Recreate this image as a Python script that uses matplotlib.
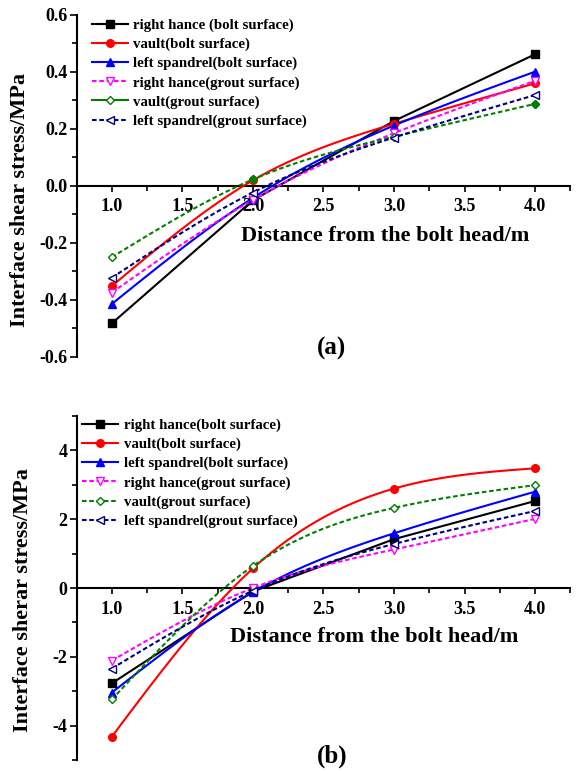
import numpy as np
import matplotlib
matplotlib.use('Agg')
import matplotlib.pyplot as plt
from matplotlib.lines import Line2D
from matplotlib.ticker import MultipleLocator, FormatStrFormatter

plt.rcParams['font.family'] = 'Liberation Serif'
plt.rcParams['font.weight'] = 'bold'
plt.rcParams['axes.unicode_minus'] = False

# distance along the bolt (m)
dist = [1.0, 2.0, 3.0, 4.0]

# (a) shear stress, MPa
rh_bolt_a = [-0.482, -0.05, 0.228, 0.462]
vault_bolt_a = [-0.351, 0.02, 0.218, 0.360]
ls_bolt_a = [-0.414, -0.042, 0.212, 0.401]
rh_grout_a = [-0.374, -0.049, 0.185, 0.369]
vault_grout_a = [-0.250, 0.023, 0.173, 0.288]
ls_grout_a = [-0.322, -0.023, 0.170, 0.319]

# (b) shear stress, MPa
rh_bolt_b = [-2.77, -0.10, 1.42, 2.53]
vault_bolt_b = [-4.32, 0.57, 2.89, 3.48]
ls_bolt_b = [-3.04, -0.12, 1.59, 2.80]
rh_grout_b = [-2.11, 0.0, 1.12, 2.01]
vault_grout_b = [-3.24, 0.64, 2.33, 2.99]
ls_grout_b = [-2.34, -0.08, 1.28, 2.24]

labels_a = ['right hance (bolt surface)', 'vault(bolt surface)', 'left spandrel(bolt surface)',
            'right hance(grout surface)', 'vault(grout surface)', 'left spandrel(grout surface)']
labels_b = ['right hance(bolt surface)', 'vault(bolt surface)', 'left spandrel(bolt surface)',
            'right hance(grout surface)', 'vault(grout surface)', 'left spandrel(grout surface)']


def smooth(xs, ys, n=80):
    # natural cubic spline through the points
    xs = np.asarray(xs, float)
    ys = np.asarray(ys, float)
    k = len(xs)
    h = np.diff(xs)
    A = np.zeros((k, k))
    r = np.zeros(k)
    A[0, 0] = A[-1, -1] = 1
    for i in range(1, k - 1):
        A[i, i - 1] = h[i - 1]
        A[i, i] = 2 * (h[i - 1] + h[i])
        A[i, i + 1] = h[i]
        r[i] = 6 * ((ys[i + 1] - ys[i]) / h[i] - (ys[i] - ys[i - 1]) / h[i - 1])
    m = np.linalg.solve(A, r)
    xx = np.linspace(xs[0], xs[-1], n)
    j = np.clip(np.searchsorted(xs, xx) - 1, 0, k - 2)
    t0 = xs[j + 1] - xx
    t1 = xx - xs[j]
    hj = h[j]
    yy = (m[j] * t0 ** 3 + m[j + 1] * t1 ** 3) / (6 * hj) \
        + (ys[j] / hj - m[j] * hj / 6) * t0 + (ys[j + 1] / hj - m[j + 1] * hj / 6) * t1
    return xx, yy


dash = (0, (2.2, 1.3))
styles = [
    dict(color='black', marker='s', ls='-', mfc='black', curve=False),
    dict(color='red', marker='o', ls='-', mfc='red', curve=True),
    dict(color='blue', marker='^', ls='-', mfc='blue', curve=True),
    dict(color='magenta', marker='v', ls=dash, mfc='white', curve=True),
    dict(color='green', marker='D', ls=dash, mfc='white', curve=True),
    dict(color='navy', marker='<', ls=dash, mfc='white', curve=True),
]


def draw(ax, series, labels, ylim, ymaj, ymin, yfmt, ylabel, tag, leg_xy, green_solid):
    handles = []
    for ys, st, lab in zip(series, styles, labels):
        ms = 4.5 if st['marker'] == 'D' else 5.5
        if st['curve']:
            xx, yy = smooth(dist, ys)
        else:
            xx, yy = dist, ys
        ax.plot(xx, yy, color=st['color'], ls=st['ls'], lw=1.5, zorder=3)
        ax.plot(dist, ys, ls='none', marker=st['marker'], ms=ms, mfc=st['mfc'],
                mec=st['color'], mew=1.0, zorder=4)
        handles.append(Line2D([], [], color=st['color'], ls=st['ls'], lw=1.5,
                              marker=st['marker'], ms=ms, mfc=st['mfc'], mec=st['color']))
    if green_solid:
        handles[4].set_linestyle('-')

    ax.set_xlim(0.75, 4.25)
    ax.set_ylim(*ylim)
    ax.spines['top'].set_visible(False)
    ax.spines['right'].set_visible(False)
    ax.spines['bottom'].set_position(('data', 0))
    ax.spines['left'].set_linewidth(1.5)
    ax.spines['bottom'].set_linewidth(1.5)
    ax.xaxis.set_major_locator(MultipleLocator(0.5))
    ax.xaxis.set_minor_locator(MultipleLocator(0.25))
    ax.xaxis.set_major_formatter(FormatStrFormatter('%.1f'))
    ax.yaxis.set_major_locator(MultipleLocator(ymaj))
    ax.yaxis.set_minor_locator(MultipleLocator(ymin))
    ax.yaxis.set_major_formatter(FormatStrFormatter(yfmt))
    ax.tick_params(axis='x', which='major', direction='out', length=4, width=1.2, pad=5, labelsize=13)
    ax.tick_params(axis='x', which='minor', direction='out', length=3.5, width=1.2)
    ax.tick_params(axis='y', which='major', direction='out', length=5, width=1.2, pad=1.5, labelsize=13)
    ax.tick_params(axis='y', which='minor', direction='out', length=3.5, width=1.2)

    ax.set_ylabel(ylabel, fontsize=16, fontweight='bold')
    ax.legend(handles, labels, loc='upper left', bbox_to_anchor=leg_xy, frameon=False,
              fontsize=10.7, handlelength=2.4, handletextpad=0.4, labelspacing=0.38,
              borderpad=0, borderaxespad=0)
    ax.text(0.517, tag[1], tag[0], transform=ax.transAxes, ha='center', va='center',
            fontsize=18, fontweight='bold')


fig = plt.figure(figsize=(5.77, 7.72), dpi=100)
ax1 = fig.add_axes([0.1327, 0.5376, 0.8557, 0.4430])
ax2 = fig.add_axes([0.1327, 0.0155, 0.8557, 0.4456])

draw(ax1, [rh_bolt_a, vault_bolt_a, ls_bolt_a, rh_grout_a, vault_grout_a, ls_grout_a],
     labels_a, (-0.6, 0.6), 0.2, 0.1, '%.1f', 'Interface shear stress/MPa', ('(a)', 0.026),
     (0.031, 0.99), True)
# vault grout points at 2 m and 4 m are drawn solid
ax1.plot(dist[1::2], vault_grout_a[1::2], ls='none', marker='D', ms=4.5, color='green', zorder=5)
ax1.set_xlabel('Distance from the bolt head/m', fontsize=16, fontweight='bold')
ax1.xaxis.set_label_coords(0.625, 0.354)
ax1.xaxis.label.set_va('center')
ax1.yaxis.set_label_coords(-0.094, 0.459)

draw(ax2, [rh_bolt_b, vault_bolt_b, ls_bolt_b, rh_grout_b, vault_grout_b, ls_grout_b],
     labels_b, (-5, 5), 2, 1, '%d', 'Interface sherar stress/MPa', ('(b)', 0.01),
     (0.011, 0.993), False)
ax2.set_xlabel('Distance from the bolt head/m', fontsize=16, fontweight='bold')
ax2.xaxis.set_label_coords(0.602, 0.358)
ax2.xaxis.label.set_va('center')
ax2.yaxis.set_label_coords(-0.088, 0.465)

fig.savefig('out.png', dpi=100)
